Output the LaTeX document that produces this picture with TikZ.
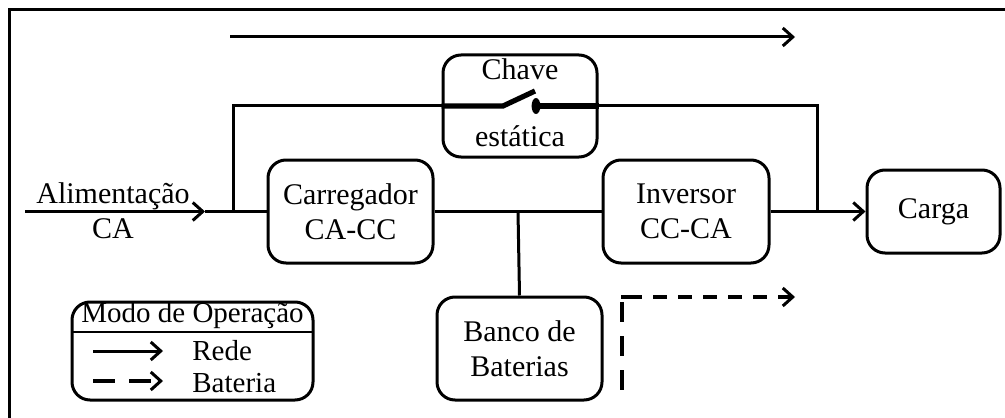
\documentclass[tikz,border=0pt]{standalone}
\usepackage{fontspec}
\setmainfont{Liberation Serif}
\usetikzlibrary{arrows.meta}
\begin{document}
\begin{tikzpicture}[x=0.5pt,y=-0.5pt,
  box/.style={draw,line width=1.5pt,rounded corners=9pt,inner sep=0pt,align=center,
    font=\fontsize{15pt}{17.5pt}\selectfont},
  txt/.style={inner sep=0pt,font=\fontsize{15pt}{17.5pt}\selectfont},
  ltxt/.style={inner sep=0pt,font=\fontsize{14.5pt}{17.5pt}\selectfont},
  wire/.style={line width=1.5pt},
  arr/.style={line width=1.5pt,-{Straight Barb[length=5pt,width=9pt,line width=1.5pt]}},
  darr/.style={line width=2pt,dash pattern=on 7pt off 5.5pt,-{Straight Barb[length=5pt,width=9pt,line width=1.5pt]}},
  dline/.style={line width=2pt,dash pattern=on 10pt off 7pt},
  sw/.style={line width=2.6pt}]
\useasboundingbox (0,0) rectangle (1005,417);
\clip (0,0) rectangle (1005,417);
% frame
\draw[line width=1.5pt] (9,430) -- (9,10) -- (1020,10);
% top arrow
\coordinate (ta) at (230,37);
\coordinate (tb) at (795,37);
\draw[arr] (ta) -- (tb);
% boxes
\node[box,minimum width=82.5pt,minimum height=51.5pt] (carr) at (350.5,211.5) {Carregador\\CA-CC};
\node[box,minimum width=83pt,minimum height=51.5pt] (inv) at (686,211.5) {Inversor\\CC-CA};
\node[box,minimum width=77pt,minimum height=51pt] (chave) at (520,106) {};
\node[box,minimum width=82.5pt,minimum height=51.5pt] (banco) at (519.5,348.5) {Banco de\\Baterias};
\node[box,minimum width=66.5pt,minimum height=41.5pt] (carga) at (933.5,211.5) {Carga};
\node[txt,anchor=base] (chavet) at (520,80) {Chave};
\node[txt,anchor=base] (estat) at (520,147) {estática};
% input
\coordinate (in) at (25,211.5);
\coordinate (inar) at (205,211.5);
\coordinate (j1) at (233,211.5);
\coordinate (j2) at (817,211.5);
\coordinate (j3) at (518,211.5);
\node[txt,anchor=base] (alim) at (113,203) {Alimentação};
\node[txt,anchor=base] (ca) at (113,238) {CA};
\draw[arr] (in) -- (inar);
\draw[wire] (inar) -- (carr.west);
\draw[wire] (carr.east) -- (inv.west);
\draw[wire] (j3) -- (banco.north);
\draw[arr] (inv.east) -- (carga.west);
% bypass
\draw[wire] (j1) |- (chave.west);
\draw[wire] (chave.east) -| (j2);
% switch
\coordinate (s1) at (503,106);
\coordinate (s2) at (535,91);
\coordinate (s3) at (536,106);
\draw[sw] (chave.west) -- (s1) -- (s2);
\fill (s3) ellipse (2.2pt and 4pt);
\draw[sw] (s3) -- (chave.east);
% battery mode dashed arrow
\coordinate (d1) at (622,396);
\coordinate (d2) at (622,302);
\coordinate (d0) at (621,297);
\coordinate (d4) at (628,297);
\coordinate (d3) at (795,297);
\draw[dline] (d2) -- (d1);
\draw[line width=2pt] (d0) -- (d4);
\draw[darr] (d4) -- (d3);
% legend
\node[box,minimum width=120.5pt,minimum height=49pt] (leg) at (192.5,351) {};
\coordinate (sepl) at (72,332);
\coordinate (sepr) at (313,332);
\draw[line width=1pt] (sepl) -- (sepr);
\node[ltxt,anchor=base] (legt) at (192.5,322) {Modo de Operação};
\coordinate (r1) at (93,351);
\coordinate (r2) at (163,351);
\coordinate (b1) at (93,381);
\coordinate (b2) at (163,381);
\draw[arr] (r1) -- (r2);
\draw[arr,line width=2pt,dash pattern=on 11pt off 7pt] (b1) -- (b2);
\node[ltxt,anchor=base west] (rede) at (192,360) {Rede};
\node[ltxt,anchor=base west] (bat) at (192,392) {Bateria};
\end{tikzpicture}
\end{document}
